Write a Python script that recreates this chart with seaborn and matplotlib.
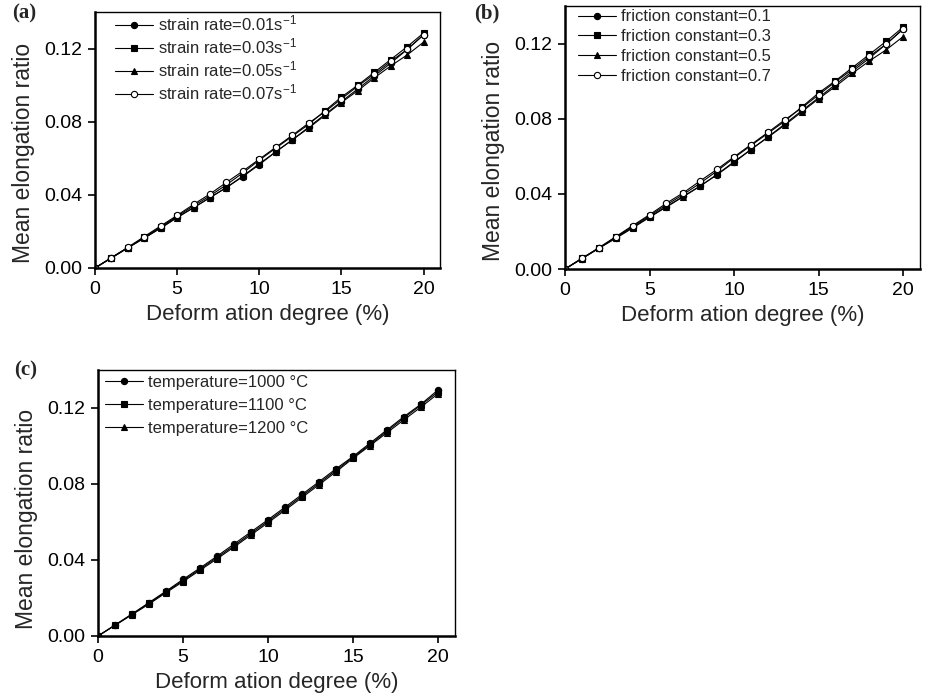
import matplotlib
matplotlib.use("Agg")
import matplotlib.pyplot as plt
import seaborn as sns
import pandas as pd

sns.set_style("white")
plt.rcParams['font.family'] = ['Liberation Sans', 'DejaVu Sans']
plt.rcParams['mathtext.default'] = 'regular'

# deformation degree (%)
deform = list(range(0, 21))

# (a) strain rate
strain_labels = ['strain rate=0.01s$^{-1}$', 'strain rate=0.03s$^{-1}$',
                 'strain rate=0.05s$^{-1}$', 'strain rate=0.07s$^{-1}$']
strain_001 = [0, .0055, .0110, .0165, .0220, .0278, .0330, .0385, .0440, .0500, .0565,
              .0635, .0700, .0770, .0840, .0910, .0980, .1050, .1120, .1195, .1275]
strain_003 = [0, .0056, .0112, .0168, .0225, .0283, .0340, .0395, .0455, .0520, .0590,
              .0655, .0720, .0785, .0860, .0935, .1000, .1070, .1140, .1210, .1285]
strain_005 = [0, .0055, .0110, .0163, .0218, .0275, .0330, .0385, .0440, .0503, .0570,
              .0635, .0700, .0765, .0835, .0905, .0970, .1040, .1105, .1165, .1235]
strain_007 = [0, .0057, .0113, .0172, .0230, .0288, .0348, .0405, .0468, .0530, .0595,
              .0660, .0725, .0792, .0855, .0925, .0995, .1060, .1130, .1195, .1275]

# (b) friction constant
friction_labels = ['friction constant=0.1', 'friction constant=0.3',
                   'friction constant=0.5', 'friction constant=0.7']
friction_01 = [0, .0055, .0110, .0166, .0221, .0278, .0332, .0387, .0442, .0502, .0567,
               .0636, .0702, .0772, .0842, .0912, .0982, .1052, .1122, .1197, .1277]
friction_03 = [0, .0056, .0112, .0169, .0226, .0284, .0341, .0397, .0457, .0522, .0592,
               .0657, .0722, .0787, .0862, .0937, .1002, .1072, .1142, .1212, .1287]
friction_05 = [0, .0055, .0110, .0163, .0218, .0275, .0330, .0385, .0441, .0504, .0571,
               .0636, .0701, .0766, .0836, .0906, .0972, .1042, .1107, .1167, .1237]
friction_07 = [0, .0057, .0113, .0172, .0231, .0289, .0350, .0406, .0469, .0531, .0597,
               .0662, .0727, .0794, .0857, .0927, .0997, .1062, .1132, .1197, .1277]

# (c) temperature
temp_labels = ['temperature=1000 °C', 'temperature=1100 °C', 'temperature=1200 °C']
temp_1000 = [0, .0058, .0116, .0176, .0236, .0298, .0358, .0420, .0484, .0548, .0612,
             .0678, .0745, .0812, .0880, .0945, .1015, .1085, .1155, .1220, .1295]
temp_1100 = [0, .0057, .0114, .0172, .0232, .0292, .0352, .0413, .0475, .0540, .0604,
             .0670, .0737, .0804, .0872, .0940, .1008, .1078, .1148, .1215, .1285]
temp_1200 = [0, .0056, .0112, .0168, .0228, .0286, .0346, .0406, .0468, .0532, .0596,
             .0662, .0729, .0796, .0864, .0935, .1002, .1070, .1138, .1205, .1275]

markers = [('o', 'black'), ('s', 'black'), ('^', 'black'), ('o', 'white')]

fig = plt.figure(figsize=(9.3, 6.99), dpi=100)


def panel(rect, labels, series, tag, tag_xy, leg_anchor, leg_space, ylab_y):
    ax = fig.add_axes(rect)
    rows = []
    for lab, vals in zip(labels, series):
        rows += [{'deform': x, 'ratio': y, 'set': lab} for x, y in zip(deform, vals)]
    df = pd.DataFrame(rows)
    for i, lab in enumerate(labels):
        m, fc = markers[i]
        sns.lineplot(data=df[df['set'] == lab], x='deform', y='ratio', ax=ax,
                     color='black', lw=0.8, marker=m, markersize=4.5,
                     markerfacecolor=fc, markeredgecolor='black', markeredgewidth=0.8,
                     label=lab)
    ax.set_xlim(0, 21)
    ax.set_ylim(0, 0.14)
    ax.set_xticks([0, 5, 10, 15, 20])
    ax.set_yticks([0, 0.04, 0.08, 0.12])
    ax.yaxis.set_major_formatter(matplotlib.ticker.FormatStrFormatter('%.2f'))
    ax.tick_params(direction='out', length=5, width=1.2, labelsize=14, pad=4,
                   bottom=True, left=True, colors='black')
    for s in ['left', 'bottom']:
        ax.spines[s].set_linewidth(1.8)
    for s in ['top', 'right']:
        ax.spines[s].set_linewidth(1.0)
    for s in ax.spines.values():
        s.set_color('black')
    ax.set_xlabel('Deform ation degree (%)', fontsize=16, labelpad=5)
    ax.set_ylabel('Mean elongation ratio', fontsize=16.5, labelpad=7, y=ylab_y)
    ax.legend(loc='upper left', frameon=False, fontsize=12, handlelength=2.3,
              handletextpad=0.3, labelspacing=leg_space, borderaxespad=0,
              borderpad=0, bbox_to_anchor=leg_anchor)
    fig.text(tag_xy[0], tag_xy[1], tag, fontsize=15, fontweight='bold',
             family='Liberation Serif', va='top', ha='left')
    return ax


panel([95 / 930, 1 - 268 / 699, 345 / 930, 256 / 699], strain_labels,
      [strain_001, strain_003, strain_005, strain_007], '(a)', (12 / 930, 1 - 3 / 699),
      (0.058, 0.993), 0.19, 0.45)
panel([565 / 930, 1 - 269 / 699, 355 / 930, 263 / 699], friction_labels,
      [friction_01, friction_03, friction_05, friction_07], '(b)', (474 / 930, 1 - 3 / 699),
      (0.037, 0.987), 0.29, 0.45)
panel([98 / 930, 1 - 636 / 699, 357 / 930, 266 / 699], temp_labels,
      [temp_1000, temp_1100, temp_1200], '(c)', (14 / 930, 1 - 360 / 699),
      (0.02, 0.983), 0.5, 0.44)

fig.savefig('out.png', dpi=100)
